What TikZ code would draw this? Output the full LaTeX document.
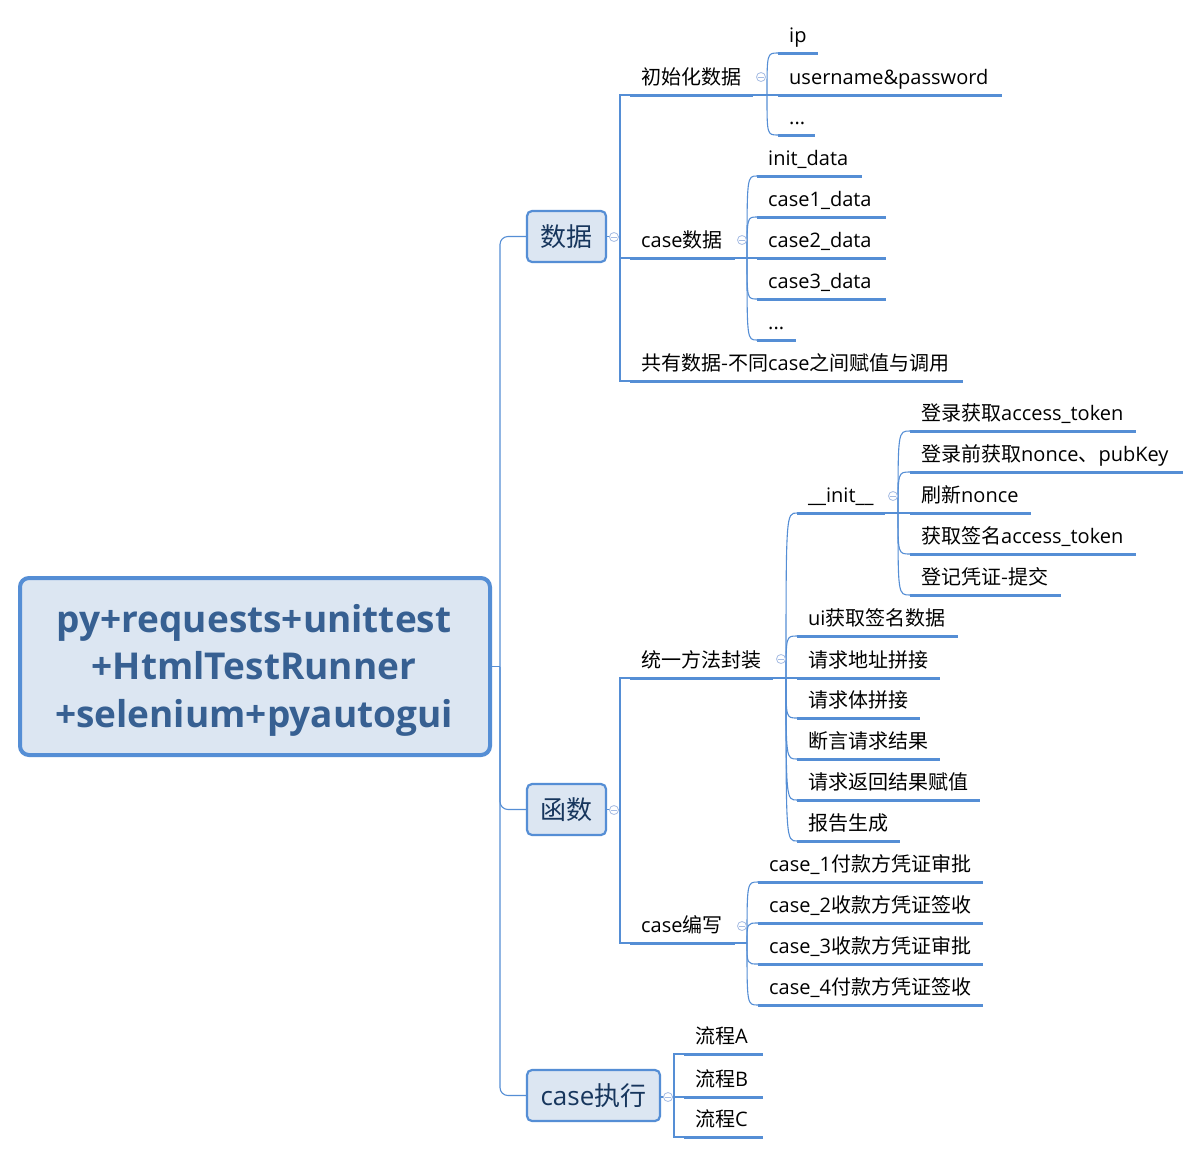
\documentclass[tikz,border=0pt]{standalone}
\usepackage{fontspec}
\setmainfont{Open Sans}
\newfontfamily\zhfont{Noto Sans CJK SC}
\newcommand\zh[1]{{\zhfont #1}}
\definecolor{linec}{HTML}{558ED5}
\definecolor{collc}{HTML}{A6BCE3}
\definecolor{boxfill}{HTML}{DCE6F2}
\definecolor{roottext}{HTML}{376092}
\definecolor{boxtext}{HTML}{17365D}
\tikzset{
  conn/.style={draw=linec, line width=1.1pt},
  uline/.style={draw=linec, line width=3pt},
  txt/.style={anchor=base west, inner sep=0pt, font=\fontsize{20}{24}\selectfont, text=black},
  topbox/.style={draw=linec, line width=2.2pt, fill=boxfill, rounded corners=5pt, inner sep=0pt,
    minimum height=51pt, font=\fontsize{26}{30}\selectfont, text=boxtext},
  rootbox/.style={draw=linec, line width=4pt, fill=boxfill, rounded corners=9pt, inner sep=0pt,
    minimum width=470pt, minimum height=177pt},
  roottxt/.style={inner sep=0pt, align=center,
    font=\fontsize{37}{47.5}\selectfont\bfseries, text=roottext},
  coll/.style={circle, draw=collc, fill=white, minimum size=9pt, inner sep=0pt, line width=0.8pt,
    path picture={\draw[collc, line width=0.8pt] ([xshift=-2.6pt]path picture bounding box.center) -- ([xshift=2.6pt]path picture bounding box.center);}}
}
\newcommand\topic[5]{%
  \coordinate (#1-l) at (#2,#4);
  \coordinate (#1-r) at (#3,#4);
  \draw[uline] (#1-l) -- (#1-r);
  \node[txt] (#1) at ({#2+11},{#4-11}) {#5};}
\newcommand\brc[2]{\draw[conn] (#1-j) .. controls (#1-j |- #2-l) .. (#2-l);}
\begin{document}
\begin{tikzpicture}[x=1pt,y=-1pt]
\useasboundingbox (0,0) rectangle (1201,1154);
\fill[white] (0,0) rectangle (1201,1154);

% root and main topics
\node[rootbox] (root) at (255,666.5) {};
\node[roottxt] (roottext) at (254,670) {py+requests+unittest\\+HtmlTestRunner\\+selenium+pyautogui};
\node[topbox, minimum width=79pt] (data) at (566.5,236.5) {\zh{数据}};
\node[topbox, minimum width=79pt] (func) at (566.5,809.5) {\zh{函数}};
\node[topbox, minimum width=133pt] (exec) at (593.5,1095.5) {case\zh{执行}};

% trunk
\coordinate (tj) at (500,666.5);
\draw[conn] (root.east) -- (tj);
\draw[conn, rounded corners=8pt] (tj) |- (data.west);
\draw[conn, rounded corners=8pt] (tj) |- (func.west);
\draw[conn, rounded corners=8pt] (tj) |- (exec.west);

% ---- data branch
\topic{init}{630}{753}{95}{\zh{初始化数据}}
\topic{casedata}{630}{735}{258}{case\zh{数据}}
\topic{shared}{630}{963}{381}{\zh{共有数据-不同}case\zh{之间赋值与调用}}
\coordinate (dj) at (620,236.5);
\draw[conn] (data.east) -- (dj);
\draw[conn] (dj) |- (init-l);
\draw[conn] (dj) |- (casedata-l);
\draw[conn] (dj) |- (shared-l);

\topic{ip}{778}{818}{53}{ip}
\topic{userpw}{778}{1002}{95}{username\&password}
\topic{dotsa}{778}{815}{135}{...}
\coordinate (init-j) at (767,95);
\draw[conn] (init-r) -- (init-j);
\brc{init}{ip}\brc{init}{userpw}\brc{init}{dotsa}

\topic{initdata}{757}{862}{176}{init\_data}
\topic{cdA}{757}{886}{217}{case1\_data}
\topic{cdB}{757}{886}{258}{case2\_data}
\topic{cdC}{757}{886}{299}{case3\_data}
\topic{dotsb}{757}{796}{340}{...}
\coordinate (casedata-j) at (747,258);
\draw[conn] (casedata-r) -- (casedata-j);
\brc{casedata}{initdata}\brc{casedata}{cdA}\brc{casedata}{cdB}\brc{casedata}{cdC}\brc{casedata}{dotsb}

% ---- function branch
\topic{unified}{630}{773}{678}{\zh{统一方法封装}}
\topic{casewrite}{630}{735}{943}{case\zh{编写}}
\coordinate (fj) at (620,809.5);
\draw[conn] (func.east) -- (fj);
\draw[conn] (fj) |- (unified-l);
\draw[conn] (fj) |- (casewrite-l);

\topic{initm}{797}{885}{513}{\_\_init\_\_}
\topic{ui}{797}{958}{636}{ui\zh{获取签名数据}}
\topic{addr}{797}{940}{678}{\zh{请求地址拼接}}
\topic{body}{797}{920}{718}{\zh{请求体拼接}}
\topic{asrt}{797}{940}{759}{\zh{断言请求结果}}
\topic{ret}{797}{980}{800}{\zh{请求返回结果赋值}}
\topic{report}{797}{900}{841}{\zh{报告生成}}
\coordinate (unified-j) at (786,678);
\draw[conn] (unified-r) -- (unified-j);
\brc{unified}{initm}\brc{unified}{ui}\brc{unified}{addr}\brc{unified}{body}\brc{unified}{asrt}\brc{unified}{ret}\brc{unified}{report}

\topic{ia}{910}{1136}{431}{\zh{登录获取}access\_token}
\topic{ib}{910}{1183}{472}{\zh{登录前获取}nonce\zh{、}pubKey}
\topic{ic}{910}{1031}{513}{\zh{刷新}nonce}
\topic{id}{910}{1136}{554}{\zh{获取签名}access\_token}
\topic{ie}{910}{1061}{595}{\zh{登记凭证-提交}}
\coordinate (initm-j) at (898,513);
\draw[conn] (initm-r) -- (initm-j);
\brc{initm}{ia}\brc{initm}{ib}\brc{initm}{ic}\brc{initm}{id}\brc{initm}{ie}

\topic{ca}{758}{983}{882}{case\_1\zh{付款方凭证审批}}
\topic{cb}{758}{983}{923}{case\_2\zh{收款方凭证签收}}
\topic{cc}{758}{983}{964}{case\_3\zh{收款方凭证审批}}
\topic{cd}{758}{983}{1005}{case\_4\zh{付款方凭证签收}}
\coordinate (casewrite-j) at (747,943);
\draw[conn] (casewrite-r) -- (casewrite-j);
\brc{casewrite}{ca}\brc{casewrite}{cb}\brc{casewrite}{cc}\brc{casewrite}{cd}

% ---- execution branch
\topic{fa}{684}{763}{1054}{\zh{流程}A}
\topic{fb}{684}{763}{1097}{\zh{流程}B}
\topic{fc}{684}{763}{1137}{\zh{流程}C}
\coordinate (ej) at (674,1097);
\draw[conn] (exec.east |- ej) -- (ej);
\draw[conn] (ej) |- (fa-l);
\draw[conn] (ej) -- (fb-l);
\draw[conn] (ej) |- (fc-l);

% collapse markers
\node[coll] (m1) at (614,237) {};
\node[coll] (m2) at (614,810) {};
\node[coll] (m3) at (668,1097) {};
\node[coll] (m4) at (761,77) {};
\node[coll] (m5) at (742,240) {};
\node[coll] (m6) at (781,659) {};
\node[coll] (m7) at (893,496) {};
\node[coll] (m8) at (742,926) {};
\end{tikzpicture}
\end{document}
